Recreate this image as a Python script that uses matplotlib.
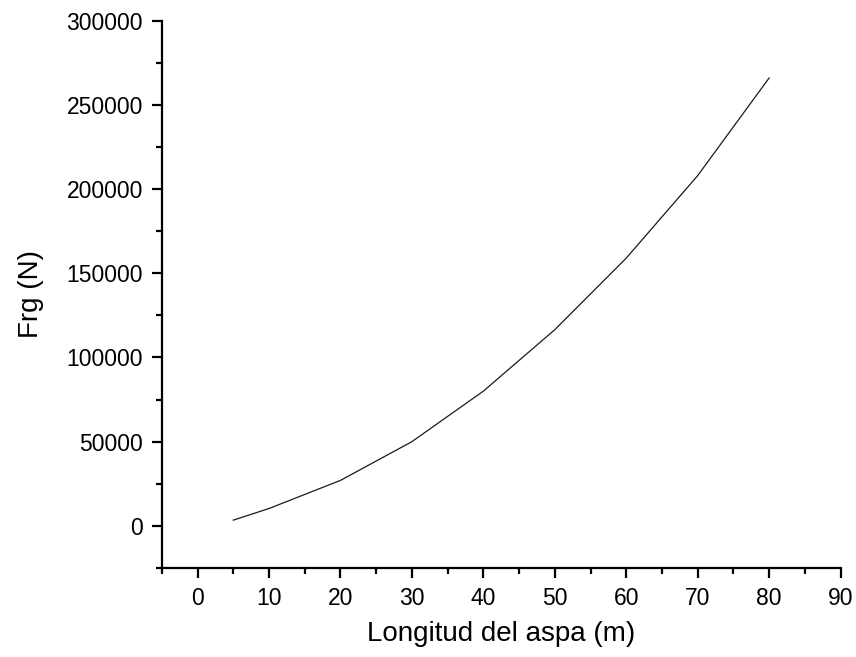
import matplotlib
matplotlib.use("Agg")
import matplotlib.pyplot as plt
from matplotlib.ticker import MultipleLocator

plt.rcParams["font.family"] = ["Liberation Sans", "DejaVu Sans"]

longitud = [5, 10, 20, 30, 40, 50, 60, 70, 80]
frg = [3400, 10300, 27000, 50000, 80000, 116500, 159000, 208000, 266000]

fig = plt.figure(figsize=(8.56, 6.57), dpi=100)
ax = fig.add_axes([0.189, 0.1355, 0.793, 0.833])

ax.plot(longitud, frg, color="#1a1a1a", linewidth=0.9)

ax.set_xlim(-5, 90)
ax.set_ylim(-25000, 300000)
ax.xaxis.set_major_locator(MultipleLocator(10))
ax.xaxis.set_minor_locator(MultipleLocator(5))
ax.yaxis.set_major_locator(MultipleLocator(50000))
ax.yaxis.set_minor_locator(MultipleLocator(25000))

for side in ["top", "right"]:
    ax.spines[side].set_visible(False)
for side in ["left", "bottom"]:
    ax.spines[side].set_linewidth(1.6)

ax.tick_params(which="major", direction="out", length=7.5, width=1.6, labelsize=16.5, pad=6)
ax.tick_params(which="minor", direction="out", length=4, width=1.6)

ax.set_xlabel("Longitud del aspa (m)", fontsize=20, labelpad=8)
ax.set_ylabel("Frg (N)", fontsize=20, labelpad=16)

fig.savefig("out.png", dpi=100)
